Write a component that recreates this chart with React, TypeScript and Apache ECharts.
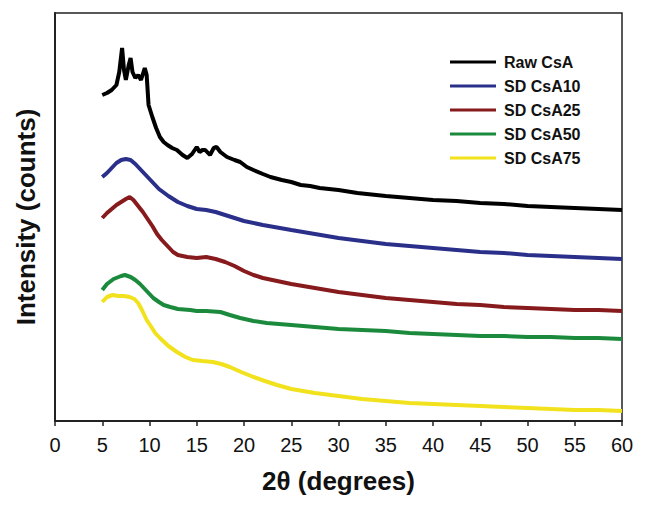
import React, { useEffect, useRef } from "react";
import * as echarts from "echarts";

// Values are intensity in arbitrary units (vertically offset traces), x = 2θ in degrees
const seriesNames = ["Raw CsA", "SD CsA10", "SD CsA25", "SD CsA50", "SD CsA75"];
const seriesColors = ["#000000", "#2a2f8a", "#861a1c", "#1b8a3c", "#f1e21d"];
const xTicks = [0, 5, 10, 15, 20, 25, 30, 35, 40, 45, 50, 55, 60];

const rawCsA: [number, number][] = [
  [5.0, 326], [5.5, 328], [6.0, 331], [6.5, 336], [6.8, 349], [7.1, 373], [7.3, 351], [7.5, 341],
  [7.8, 356], [8.0, 363], [8.2, 349], [8.5, 343], [8.8, 346], [9.1, 341], [9.5, 353], [9.7, 346],
  [9.9, 316], [10.3, 304], [10.7, 293], [11.1, 284], [11.5, 279], [11.9, 276], [12.4, 273],
  [12.9, 271], [13.5, 266], [14.0, 263], [14.5, 267], [15.0, 274], [15.3, 269], [15.6, 271],
  [15.9, 271], [16.4, 266], [16.8, 273], [17.1, 274], [17.5, 269], [18.2, 264], [19.0, 261],
  [19.6, 259], [20.3, 254], [21.0, 251], [22.0, 247], [22.8, 244], [24.0, 241], [25.0, 239],
  [26.0, 236], [27.0, 235], [28.0, 233], [30.0, 231], [32.0, 228], [35.0, 225], [37.5, 223],
  [40.0, 221], [42.5, 220], [45.0, 218], [47.5, 217], [50.0, 215], [52.5, 214], [55.0, 213],
  [57.5, 212], [60.0, 211],
];

const sdCsA10: [number, number][] = [
  [5.0, 244], [5.5, 248], [6.0, 253], [6.5, 258], [7.0, 261], [7.5, 262], [8.0, 261], [8.5, 257],
  [9.0, 252], [9.5, 247], [10.0, 242], [10.5, 237], [11.0, 232], [12.0, 225], [13.0, 219],
  [14.0, 215], [15.0, 212], [16.0, 211], [17.0, 209], [18.0, 206], [19.0, 203], [20.0, 200],
  [22.0, 196], [25.0, 191], [27.5, 187], [30.0, 183], [32.5, 180], [35.0, 177], [37.5, 175],
  [40.0, 173], [42.5, 171], [45.0, 169], [47.5, 168], [50.0, 166], [52.5, 165], [55.0, 164],
  [57.5, 163], [60.0, 162],
];

const sdCsA25: [number, number][] = [
  [5.0, 203], [5.5, 208], [6.0, 212], [6.5, 216], [7.0, 219], [7.5, 222], [7.9, 224], [8.3, 221],
  [8.8, 215], [9.3, 209], [9.8, 202], [10.3, 195], [10.8, 187], [11.3, 181], [12.0, 174],
  [12.5, 169], [13.0, 166], [14.0, 164], [15.0, 163], [16.0, 164], [17.0, 162], [18.0, 159],
  [19.0, 155], [20.0, 150], [21.0, 146], [22.0, 143], [23.0, 141], [25.0, 137], [27.5, 133],
  [30.0, 129], [32.5, 126], [35.0, 123], [37.5, 121], [40.0, 119], [42.5, 117], [45.0, 116],
  [47.5, 114], [50.0, 113], [52.5, 112], [55.0, 111], [57.5, 111], [60.0, 110],
];

const sdCsA50: [number, number][] = [
  [5.0, 131], [5.5, 137], [6.2, 142], [7.0, 145], [7.4, 146], [8.0, 144], [8.5, 141], [9.0, 137],
  [9.5, 132], [10.0, 127], [10.4, 123], [11.0, 119], [11.5, 116], [12.2, 114], [13.0, 112],
  [14.3, 111], [15.0, 110], [16.0, 110], [17.5, 109], [18.5, 106], [19.6, 103], [21.0, 100],
  [22.4, 98], [25.0, 96], [27.5, 94], [30.0, 92], [32.5, 91], [35.0, 90], [37.5, 88], [40.0, 87],
  [42.5, 86], [45.0, 85], [47.5, 85], [50.0, 84], [52.5, 84], [55.0, 83], [57.5, 83], [60.0, 82],
];

const sdCsA75: [number, number][] = [
  [5.0, 119], [5.5, 124], [6.1, 126], [6.7, 125], [7.3, 125], [7.9, 124], [8.4, 122], [8.8, 118],
  [9.2, 111], [9.7, 101], [10.2, 94], [10.6, 88], [11.1, 83], [12.0, 75], [12.9, 69], [13.8, 64],
  [14.6, 61], [15.6, 60], [16.7, 59], [17.6, 57], [18.5, 54], [19.7, 49], [21.0, 44], [22.2, 40],
  [23.5, 36], [25.0, 32], [27.5, 28], [30.0, 25], [32.5, 22], [35.0, 20], [37.5, 18], [40.0, 17],
  [42.5, 16], [45.0, 15], [47.5, 14], [50.0, 13], [52.5, 12], [55.0, 11], [57.5, 11], [60.0, 10],
];

const seriesData = [rawCsA, sdCsA10, sdCsA25, sdCsA50, sdCsA75];

const FONT = "Liberation Sans, Arial, Helvetica, sans-serif";

export default function App() {
  const ref = useRef<HTMLDivElement>(null);

  useEffect(() => {
    if (!ref.current) return;
    const chart = echarts.init(ref.current, null, { renderer: "svg" });
    chart.setOption({
      animation: false,
      backgroundColor: "#ffffff",
      grid: {
        left: 55,
        right: 23,
        top: 13,
        bottom: 88,
        show: true,
        borderColor: "#222222",
        borderWidth: 1.5,
        backgroundColor: "transparent",
      },
      legend: {
        data: seriesNames,
        orient: "vertical",
        left: 445,
        top: 49,
        icon: "rect",
        itemWidth: 46,
        itemHeight: 3,
        itemGap: 8,
        textStyle: {
          fontFamily: FONT,
          fontWeight: "bold",
          fontSize: 16,
          color: "#111111",
          lineHeight: 16,
          padding: [0, 0, 0, 3],
        },
      },
      xAxis: {
        type: "value",
        min: 0,
        max: 60,
        interval: 5,
        name: "2θ (degrees)",
        nameLocation: "middle",
        nameGap: 47,
        nameTextStyle: {
          fontFamily: FONT,
          fontWeight: "bold",
          fontSize: 26,
          color: "#111111",
        },
        axisLine: { show: true, lineStyle: { color: "#222222", width: 2 } },
        axisTick: { show: true, inside: false, length: 5, lineStyle: { color: "#222222", width: 1.5 } },
        axisLabel: {
          fontFamily: FONT,
          fontSize: 20,
          color: "#111111",
          margin: 14,
          formatter: (v: number) => (xTicks.includes(v) ? String(v) : ""),
        },
        splitLine: { show: false },
      },
      yAxis: {
        type: "value",
        min: 0,
        max: 408,
        name: "Intensity (counts)",
        nameLocation: "middle",
        nameGap: 16,
        nameTextStyle: {
          fontFamily: FONT,
          fontWeight: "bold",
          fontSize: 26,
          color: "#111111",
        },
        axisLine: { show: true, lineStyle: { color: "#222222", width: 2 } },
        axisTick: { show: false },
        axisLabel: { show: false },
        splitLine: { show: false },
      },
      series: seriesNames.map((name, i) => ({
        name,
        type: "line",
        data: seriesData[i],
        symbol: "none",
        smooth: false,
        lineStyle: { color: seriesColors[i], width: 4 },
        itemStyle: { color: seriesColors[i] },
      })),
    });
    return () => chart.dispose();
  }, []);

  return <div ref={ref} style={{ width: 645, height: 509, margin: -8 }} />;
}
